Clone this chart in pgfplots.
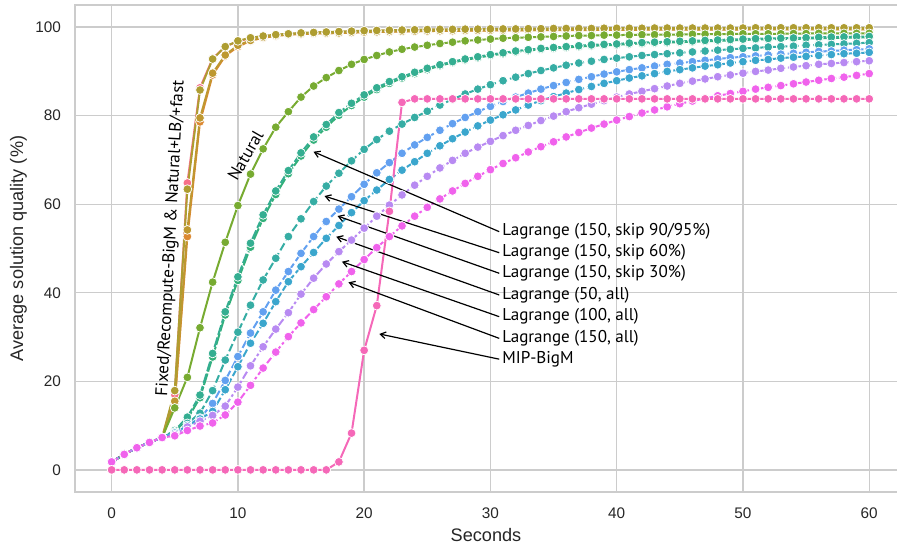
\documentclass[border=0pt]{standalone}
\usepackage{pgfplots}
\pgfplotsset{compat=1.18}
\usepackage{pgfplotstable}
\usetikzlibrary{arrows.meta}
\usepackage{fontspec}
\setmainfont{Liberation Sans}
\newfontfamily\annfont{PT Sans}

\definecolor{cFixed}{HTML}{F77189}
\definecolor{cRecomp}{HTML}{DC8932}
\definecolor{cNatLB}{HTML}{BE9830}
\definecolor{cNatFast}{HTML}{AE9D31}
\definecolor{cNatural}{HTML}{77AB31}
\definecolor{cSkA}{HTML}{33B07A}
\definecolor{cSkB}{HTML}{34AE91}
\definecolor{cSkC}{HTML}{36ADA4}
\definecolor{cSkD}{HTML}{62A0F0}
\definecolor{cAllA}{HTML}{3AA6CD}
\definecolor{cAllB}{HTML}{B88AF2}
\definecolor{cAllC}{HTML}{F062EC}
\definecolor{cMIP}{HTML}{F568B8}
\definecolor{gridc}{HTML}{CCCCCC}

\pgfplotstableread{
x fixed recomp natlb natfast natural sk95 sk90 sk60 sk30 a50 a100 a150 mip
0 1.8 1.8 1.8 1.8 1.8 1.8 1.8 1.8 1.8 1.8 1.8 1.8 0
1 3.5 3.5 3.5 3.5 3.5 3.5 3.5 3.5 3.5 3.5 3.5 3.5 0
2 5.0 5.0 5.0 5.0 5.0 5.0 5.0 5.0 5.0 5.0 5.0 5.0 0
3 6.2 6.2 6.2 6.2 6.2 6.2 6.2 6.2 6.2 6.2 6.2 6.2 0
4 7.3 7.3 7.3 7.3 7.3 7.3 7.3 7.3 7.3 7.3 7.3 7.3 0
5 17.0 15.0 15.5 17.9 14.0 8.7 8.9 8.6 8.4 8.3 8.0 7.7 0
6 64.8 52.7 54.2 63.4 20.9 11.5 11.9 10.5 10.0 10.0 9.7 8.9 0
7 86.3 78.6 79.5 85.8 32.1 16.3 16.9 12.8 11.7 11.5 11.0 9.9 0
8 92.9 89.2 89.6 92.8 42.4 25.5 26.3 17.9 15.0 13.2 12.3 10.6 0
9 95.6 93.5 93.7 95.6 51.4 35.0 35.7 24.8 20.2 18.1 14.4 12.4 0
10 96.8 95.6 95.9 96.9 59.7 42.8 43.6 31.1 25.6 23.3 18.7 15.3 0
11 97.5 96.9 97.0 97.6 66.8 50.3 51.2 37.2 30.9 28.6 23.5 19.1 0
12 97.9 97.6 97.7 98.0 72.5 56.8 57.6 42.9 35.7 33.1 27.8 23.0 0
13 98.2 98.0 98.1 98.3 77.4 62.2 63.0 47.8 40.6 38.0 31.8 26.6 0
14 98.4 98.3 98.4 98.5 80.9 66.9 67.6 52.7 44.8 42.5 35.5 30.1 0
15 98.6 98.45 98.5 98.7 84.2 70.9 71.6 56.7 48.9 45.9 39.7 33.2 0
16 98.7 98.55 98.6 98.8 86.7 74.5 75.2 60.6 52.7 49.1 43.3 36.2 0
17 98.8 98.6 98.65 98.9 88.6 77.4 78.0 64.1 56.1 52.3 46.5 39.1 0
18 98.9 98.65 98.7 99.0 90.2 80.1 80.7 67.0 58.9 55.2 49.3 42.0 1.8
19 99.0 98.75 98.8 99.1 91.6 82.3 82.8 69.8 61.7 58.1 51.9 44.8 8.3
20 99.1 98.85 98.9 99.2 92.7 84.2 84.7 72.4 64.5 60.8 54.6 47.5 27.0
21 99.15 98.9 98.95 99.25 93.6 85.9 86.3 74.6 67.1 63.2 57.3 50.2 37.1
22 99.2 98.95 99.0 99.3 94.4 87.3 87.7 76.5 69.4 65.6 59.8 52.7 58.4
23 99.25 99.0 99.05 99.35 95.0 88.5 88.8 78.1 71.5 67.7 62.1 55.1 83.0
24 99.3 99.05 99.1 99.4 95.5 89.5 89.8 79.6 73.4 69.6 64.3 57.3 83.8
25 99.35 99.1 99.15 99.45 95.9 90.4 90.7 81.0 75.1 71.5 66.3 59.3 83.8
26 99.4 99.15 99.2 99.5 96.3 91.3 91.5 82.4 76.7 73.2 68.2 61.2 83.8
27 99.4 99.15 99.2 99.5 96.6 92.0 92.2 83.7 78.2 74.8 69.9 63.0 83.8
28 99.45 99.2 99.25 99.55 96.9 92.6 92.8 84.9 79.6 76.3 71.5 64.7 83.8
29 99.45 99.2 99.25 99.55 97.1 93.1 93.3 86.0 80.9 77.7 72.9 66.3 83.8
30 99.5 99.25 99.3 99.6 97.3 93.6 93.8 87.0 82.1 79.0 74.2 67.8 83.8
31 99.5 99.25 99.3 99.6 97.5 94.0 94.2 87.9 83.2 80.2 75.5 69.2 83.8
32 99.5 99.25 99.3 99.6 97.6 94.4 94.6 88.7 84.2 81.3 76.7 70.5 83.8
33 99.55 99.3 99.35 99.65 97.7 94.7 94.9 89.5 85.1 82.4 77.8 71.8 83.8
34 99.55 99.3 99.35 99.65 97.8 95.0 95.2 90.2 86.0 83.4 78.9 73.0 83.8
35 99.6 99.35 99.4 99.7 97.9 95.2 95.4 90.8 86.8 84.3 79.9 74.1 83.8
36 99.6 99.35 99.4 99.7 98.0 95.4 95.6 91.4 87.5 85.1 80.9 75.2 83.8
37 99.6 99.35 99.4 99.7 98.1 95.6 95.8 91.9 88.2 85.9 81.8 76.2 83.8
38 99.6 99.35 99.4 99.7 98.1 95.8 96.0 92.3 88.8 86.6 82.6 77.2 83.8
39 99.65 99.4 99.45 99.75 98.2 95.9 96.1 92.7 89.4 87.3 83.4 78.1 83.8
40 99.65 99.4 99.45 99.75 98.2 96.0 96.2 93.0 89.9 87.9 84.2 79.0 83.8
41 99.65 99.4 99.45 99.75 98.25 96.2 96.4 93.3 90.4 88.5 84.9 79.8 83.8
42 99.65 99.4 99.45 99.75 98.3 96.3 96.5 93.6 90.8 89.0 85.5 80.6 83.8
43 99.7 99.45 99.5 99.8 98.3 96.4 96.6 93.8 91.2 89.5 86.1 81.3 83.8
44 99.7 99.45 99.5 99.8 98.3 96.5 96.7 94.0 91.6 90.0 86.7 82.0 83.8
45 99.7 99.45 99.5 99.8 98.35 96.6 96.8 94.2 91.9 90.4 87.3 82.7 83.8
46 99.7 99.45 99.5 99.8 98.4 96.7 96.9 94.4 92.2 90.8 87.8 83.3 83.8
47 99.7 99.45 99.5 99.8 98.4 96.8 97.0 94.6 92.5 91.2 88.3 83.9 83.8
48 99.7 99.45 99.5 99.8 98.4 96.9 97.1 94.8 92.8 91.5 88.8 84.5 83.8
49 99.7 99.45 99.5 99.8 98.45 97.0 97.2 95.0 93.1 91.9 89.2 85.0 83.8
50 99.7 99.45 99.5 99.8 98.5 97.1 97.3 95.2 93.3 92.2 89.6 85.5 83.8
51 99.75 99.5 99.55 99.85 98.5 97.2 97.4 95.3 93.5 92.5 90.0 86.0 83.8
52 99.75 99.5 99.55 99.85 98.5 97.25 97.45 95.5 93.7 92.7 90.3 86.4 83.8
53 99.75 99.5 99.55 99.85 98.5 97.3 97.5 95.6 93.9 93.0 90.7 86.8 83.8
54 99.75 99.5 99.55 99.85 98.55 97.35 97.55 95.7 94.1 93.2 91.0 87.2 83.8
55 99.75 99.5 99.55 99.85 98.55 97.4 97.6 95.9 94.3 93.4 91.3 87.6 83.8
56 99.75 99.5 99.55 99.85 98.6 97.5 97.7 96.0 94.5 93.6 91.6 88.0 83.8
57 99.75 99.5 99.55 99.85 98.6 97.55 97.75 96.1 94.6 93.8 91.8 88.4 83.8
58 99.75 99.5 99.55 99.85 98.6 97.6 97.8 96.2 94.8 94.0 92.0 88.7 83.8
59 99.75 99.5 99.55 99.85 98.6 97.65 97.85 96.35 94.9 94.1 92.2 89.1 83.8
60 99.75 99.5 99.55 99.85 98.6 97.7 97.9 96.5 95.1 94.3 92.4 89.5 83.8
}\data

\pgfplotsset{
  ser/.style={#1, line width=1.5pt, mark=*, mark size=3.3pt,
    mark options={solid, fill=#1, draw=white, line width=0.55pt}},
}

\begin{document}
\begin{tikzpicture}
\begin{axis}[
  at={(0,0)}, anchor=south west,
  width=616.5pt, height=365.25pt, scale only axis,
  xmin=-2.9, xmax=62.2, ymin=-5, ymax=105,
  xtick={0,10,...,60}, ytick={0,20,...,100},
  grid=major, major grid style={gridc, line width=1pt},
  axis line style={draw=none},
  major tick length=0pt,
  /pgf/number format/assume math mode=true,
  tick label style={font=\fontsize{11.5}{13}\selectfont, text=black!85},
  yticklabel style={xshift=-7pt},
  xticklabel style={yshift=-8pt},
  xlabel={Seconds}, ylabel={Average solution quality (\%)},
  label style={font=\fontsize{13.6}{15}\selectfont, text=black!85},
  xlabel style={at={([yshift=-32pt]axis description cs:0.5,0)}, anchor=center},
  ylabel style={at={([xshift=-42.5pt]axis description cs:0,0.5)}, anchor=center},
  clip=false,
]
\draw[gridc, line width=1.3pt] (rel axis cs:1,1) -- (rel axis cs:0,1) -- (rel axis cs:0,0) -- (rel axis cs:1,0);

\addplot[ser=cFixed] table[x=x,y=fixed]{\data};
\addplot[ser=cRecomp] table[x=x,y=recomp]{\data};
\addplot[ser=cNatLB] table[x=x,y=natlb]{\data};
\addplot[ser=cNatFast] table[x=x,y=natfast]{\data};
\addplot[ser=cNatural] table[x=x,y=natural]{\data};
\addplot[ser=cSkA, dash pattern=on 9pt off 1.5pt] table[x=x,y=sk95]{\data};
\addplot[ser=cSkB, dash pattern=on 7.5pt off 2pt] table[x=x,y=sk90]{\data};
\addplot[ser=cSkC, dash pattern=on 6pt off 2.5pt] table[x=x,y=sk60]{\data};
\addplot[ser=cSkD, dash pattern=on 6pt off 2.5pt] table[x=x,y=sk30]{\data};
\addplot[ser=cAllA, dash pattern=on 6pt off 2.25pt] table[x=x,y=a50]{\data};
\addplot[ser=cAllB, dash pattern=on 6pt off 2pt on 2pt off 2pt] table[x=x,y=a100]{\data};
\addplot[ser=cAllC, dash pattern=on 5pt off 2pt on 2pt off 2pt] table[x=x,y=a150]{\data};
\addplot[ser=cMIP] table[x=x,y=mip]{\data};

\begin{scope}[font=\annfont\fontsize{12.8}{14}\selectfont]
\node[anchor=west, inner sep=0] at (axis cs:30.92,53.8) {Lagrange (150, skip 90/95\%)};
\node[anchor=west, inner sep=0] at (axis cs:30.92,49.05) {Lagrange (150, skip 60\%)};
\node[anchor=west, inner sep=0] at (axis cs:30.92,44.4) {Lagrange (150, skip 30\%)};
\node[anchor=west, inner sep=0] at (axis cs:30.92,39.5) {Lagrange (50, all)};
\node[anchor=west, inner sep=0] at (axis cs:30.92,34.6) {Lagrange (100, all)};
\node[anchor=west, inner sep=0] at (axis cs:30.92,29.7) {Lagrange (150, all)};
\node[anchor=west, inner sep=0] at (axis cs:30.92,25.0) {MIP-BigM};
\node[rotate=87, inner sep=0] at (axis cs:4.71,52.3) {Fixed/Recompute-BigM \& Natural+LB/+fast};
\node[rotate=60, inner sep=0] at (axis cs:10.6,71.0) {Natural};
\end{scope}
\begin{scope}[black, line width=0.9pt, -{Straight Barb[length=4pt,width=5pt]}]
\draw (axis cs:30.7,53.8) -- (axis cs:15.99,71.85);
\draw (axis cs:30.7,49.05) -- (axis cs:16.86,61.85);
\draw (axis cs:30.7,44.4) -- (axis cs:17.89,57.34);
\draw (axis cs:30.7,39.5) -- (axis cs:17.79,52.66);
\draw (axis cs:30.7,34.6) -- (axis cs:18.24,47.02);
\draw (axis cs:30.7,29.7) -- (axis cs:18.76,42.37);
\draw (axis cs:30.7,25.0) -- (axis cs:21.2,30.7);
\end{scope}
\end{axis}
\pgfresetboundingbox
\path[use as bounding box] (-56.25pt,-39pt) rectangle (616.5pt,369pt);
\end{tikzpicture}
\end{document}
